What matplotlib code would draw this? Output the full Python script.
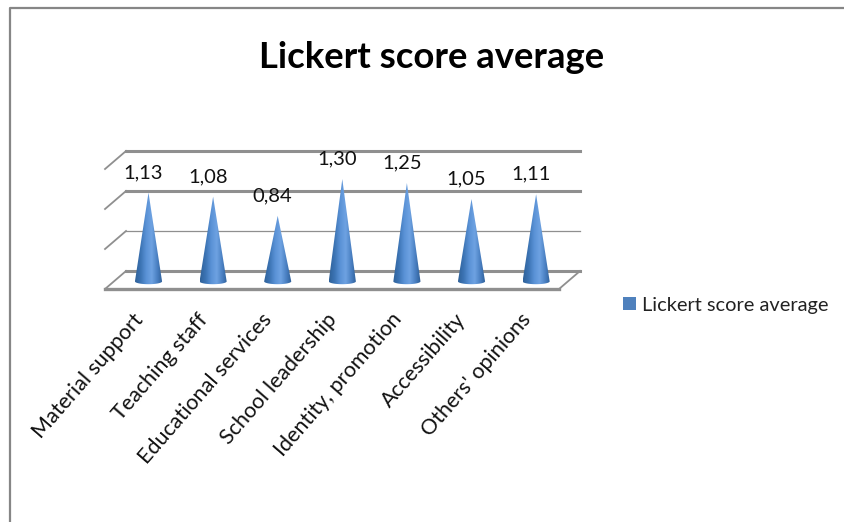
"""Cone chart of average Likert scores, with a drawn 3D floor and back wall."""

import matplotlib

matplotlib.use("Agg")  # MUST be before pyplot import
import matplotlib.pyplot as plt
import numpy as np
from matplotlib.colors import LinearSegmentedColormap
from matplotlib.patches import Patch, PathPatch
from matplotlib.path import Path

plt.rcParams["font.family"] = ["Lato", "DejaVu Sans"]

CATEGORIES = [
    "Material support",
    "Teaching staff",
    "Educational services",
    "School leadership",
    "Identity, promotion",
    "Accessibility",
    "Others' opinions",
]
SCORES = [1.13, 1.08, 0.84, 1.30, 1.25, 1.05, 1.11]
GRID_VALUES = [0, 0.5, 1.0, 1.5]
GRID_WIDTHS = [2.2, 0.9, 2.2, 2.2]
SERIES_NAME = "Lickert score average"

W, H = 844, 522
PX_PER_CAT = 64.6
PX_PER_UNIT = 80.0
X0_PX, Y0_PX = 148.5, 283.0  # pixel position of category 0, score 0

WALL_LEFT, WALL_RIGHT = -0.348, 6.68
DEPTH_X, DEPTH_Y = 0.325, 0.225
WALL_BASE = 0.15
CONE_HALF = 0.21
GRID_COLOR = "#8f8f8f"
cone_cmap = LinearSegmentedColormap.from_list(
    "cone", ["#2f6198", "#3c74b4", "#5a92d6", "#6ea2e2", "#4a80c2", "#2c5c94"]
)

fig = plt.figure(figsize=(W / 100, H / 100), dpi=100)
ax = fig.add_axes([0, 0, 1, 1])
ax.axis("off")

# outer chart border, only top and left are visible
fig.add_artist(plt.Line2D([10 / W, 10 / W, 1], [0, 1 - 8 / H, 1 - 8 / H],
                          color="#868686", lw=1.6))

# back wall gridlines and the slanted ticks on the left side
for value, lw in zip(GRID_VALUES, GRID_WIDTHS):
    y = value + WALL_BASE
    ax.plot([WALL_LEFT, WALL_RIGHT], [y, y], color=GRID_COLOR, lw=lw, zorder=1)
    ax.plot([WALL_LEFT - DEPTH_X, WALL_LEFT], [y - DEPTH_Y, y],
            color=GRID_COLOR, lw=1.3, zorder=1)

# floor front edge and right side
front_y = WALL_BASE - DEPTH_Y
ax.plot([WALL_LEFT - DEPTH_X, WALL_RIGHT - DEPTH_X], [front_y, front_y],
        color=GRID_COLOR, lw=2.4, zorder=1)
ax.plot([WALL_RIGHT - DEPTH_X, WALL_RIGHT], [front_y, WALL_BASE],
        color=GRID_COLOR, lw=1.3, zorder=1)

# cones: a horizontal gradient clipped to the cone outline
gradient = np.linspace(0, 1, 128).reshape(1, -1)
for i, score in enumerate(SCORES):
    theta = np.linspace(np.pi, 2 * np.pi, 30)
    arc_x = i + CONE_HALF * np.cos(theta)
    arc_y = 0.02 + 0.035 * np.sin(theta)
    verts = [(i, score)] + list(zip(arc_x, arc_y)) + [(i, score)]
    codes = [Path.MOVETO] + [Path.LINETO] * (len(verts) - 2) + [Path.CLOSEPOLY]
    im = ax.imshow(gradient, cmap=cone_cmap, aspect="auto", zorder=3,
                   extent=[i - CONE_HALF, i + CONE_HALF, -0.05, score],
                   interpolation="bilinear")
    clip = PathPatch(Path(verts, codes), transform=ax.transData,
                     facecolor="none", edgecolor="none")
    ax.add_patch(clip)
    im.set_clip_path(clip)

    ax.annotate(f"{score:.2f}".replace(".", ","), (i, score),
                xytext=(-3.6, 14.5), textcoords="offset points",
                ha="center", va="center", fontsize=14.5, color="#111111",
                zorder=4)

    # category label runs up at an angle towards its cone
    ax.annotate(CATEGORIES[i], (i, front_y), xytext=(-6.5, -19.5),
                textcoords="offset points", rotation=49,
                rotation_mode="anchor", ha="right", va="center",
                fontsize=15.5, color="#111111")

# imshow resets the limits, so they are set after the cones
ax.set_xlim(-X0_PX / PX_PER_CAT, (W - X0_PX) / PX_PER_CAT)
ax.set_ylim((Y0_PX - H) / PX_PER_UNIT, Y0_PX / PX_PER_UNIT)

fig.text(432 / W, 1 - 58 / H, SERIES_NAME, ha="center", va="center",
         fontsize=26.3, fontweight="bold", color="black")

fig.legend(handles=[Patch(facecolor="#4f81bd", label=SERIES_NAME)],
           loc="center left", bbox_to_anchor=(623 / W, 1 - 305 / H),
           frameon=False, fontsize=14.4, handlelength=0.625, handleheight=0.625,
           handletextpad=0.35, borderpad=0, borderaxespad=0,
           labelcolor="#222222")

fig.savefig("out.png", dpi=100)
plt.close(fig)
